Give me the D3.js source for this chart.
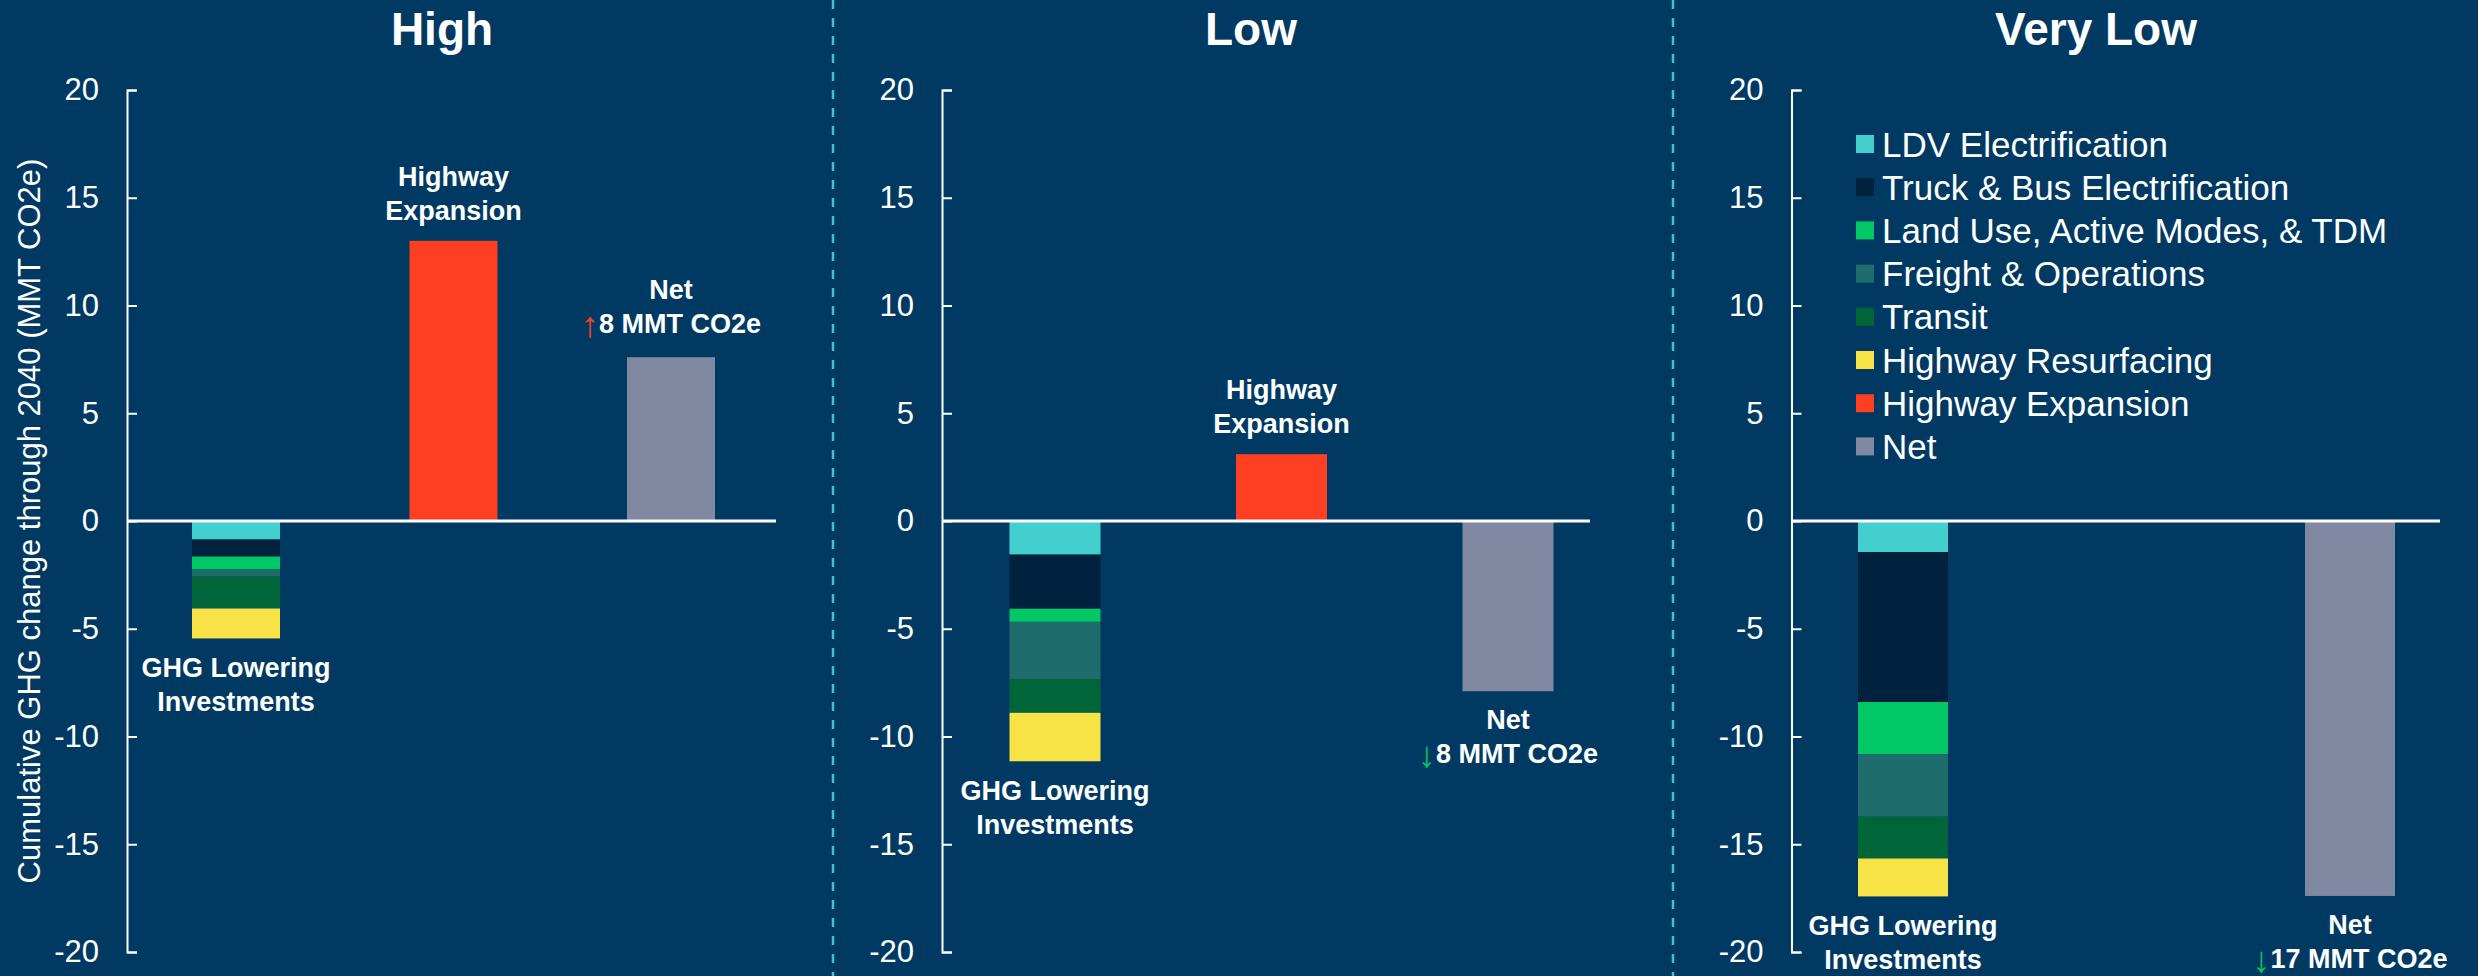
<!DOCTYPE html>
<html>
<head>
<meta charset="utf-8">
<script src="https://cdn.jsdelivr.net/npm/d3@7"></script>
<style>
  html, body { margin: 0; padding: 0; background: #003a63; }
  svg { display: block; }
  text { font-family: "Liberation Sans", Arial, sans-serif; fill: #ffffff; }
</style>
</head>
<body>
<svg id="chart" width="2478" height="976"></svg>
<script>
// ---------------- DATA ----------------
const scenarios = ["High", "Low", "Very Low"];
const categories = ["GHG Lowering Investments", "Highway Expansion", "Net"];
const seriesNames = [
  "LDV Electrification",
  "Truck & Bus Electrification",
  "Land Use, Active Modes, & TDM",
  "Freight & Operations",
  "Transit",
  "Highway Resurfacing",
  "Highway Expansion",
  "Net"
];
const ldvElectrification   = [-0.86, -1.56, -1.44];
const truckBusElectrif     = [-0.79, -2.51, -6.96];
const landUseActiveTdm     = [-0.60, -0.61, -2.43];
const freightOperations    = [-0.33, -2.65, -2.89];
const transit              = [-1.48, -1.57, -1.94];
const highwayResurfacing   = [-1.39, -2.25, -1.76];
const highwayExpansion     = [13.0, 3.1, 0];
const netChange            = [7.6, -7.9, -17.4];
const netArrows            = ["↑", "↓", "↓"];
const netLabelText         = ["8 MMT CO2e", "8 MMT CO2e", "17 MMT CO2e"];
const yTicks               = [20, 15, 10, 5, 0, -5, -10, -15, -20];
const yAxisTitle           = "Cumulative GHG change through 2040 (MMT CO2e)";

// ---------------- STYLE / LAYOUT ----------------
const colors = ["#44cfcf", "#00223e", "#00c866", "#1f6c6c", "#00663a", "#f7e346", "#ff3f21", "#8089a1"];
const bg = "#003a63";
const panelLayout = [
  { axisX: 127,   firstCenter: 236,  spacing: 217.5, lineEnd: 776,  barW: 88, titleX: 442 },
  { axisX: 942,   firstCenter: 1055, spacing: 226.5, lineEnd: 1590, barW: 91, titleX: 1251 },
  { axisX: 1791.5,firstCenter: 1903, spacing: 223.5, lineEnd: 2440, barW: 90, titleX: 2096 }
];
const separators = [833, 1673];

const svg = d3.select("#chart");
svg.append("rect").attr("width", 2478).attr("height", 976).attr("fill", bg);

const y = d3.scaleLinear().domain([-20, 20]).range([952, 90]);
const color = d3.scaleOrdinal().domain(seriesNames).range(colors);

svg.selectAll("line.sep").data(separators).join("line")
  .attr("class", "sep")
  .attr("x1", d => d).attr("x2", d => d)
  .attr("y1", 0).attr("y2", 976)
  .attr("stroke", "#3fc3c9").attr("stroke-width", 2.5)
  .attr("stroke-dasharray", "9,9");

svg.append("text")
  .attr("transform", "translate(29,521) rotate(-90)")
  .attr("text-anchor", "middle")
  .attr("dominant-baseline", "central")
  .style("font-size", "31px")
  .text(yAxisTitle);

scenarios.forEach((scen, i) => {
  const L = panelLayout[i];
  const g = svg.append("g");

  const rows = categories.map((cat, ci) => {
    const r = { category: cat };
    seriesNames.forEach(s => r[s] = 0);
    if (ci === 0) {
      r[seriesNames[0]] = ldvElectrification[i];
      r[seriesNames[1]] = truckBusElectrif[i];
      r[seriesNames[2]] = landUseActiveTdm[i];
      r[seriesNames[3]] = freightOperations[i];
      r[seriesNames[4]] = transit[i];
      r[seriesNames[5]] = highwayResurfacing[i];
    } else if (ci === 1) {
      r[seriesNames[6]] = highwayExpansion[i];
    } else {
      r[seriesNames[7]] = netChange[i];
    }
    return r;
  });
  const stacked = d3.stack().keys(seriesNames).offset(d3.stackOffsetDiverging)(rows);

  const x = d3.scalePoint().domain(categories)
    .range([L.firstCenter, L.firstCenter + 2 * L.spacing]);

  g.append("text")
    .attr("x", L.titleX).attr("y", 45)
    .attr("text-anchor", "middle")
    .style("font-size", "46px").style("font-weight", "bold")
    .text(scen);

  stacked.forEach(layer => {
    g.selectAll(null).data(layer.filter(d => d[1] - d[0] !== 0)).join("rect")
      .attr("x", d => x(d.data.category) - L.barW / 2)
      .attr("width", L.barW)
      .attr("y", d => y(Math.max(d[0], d[1])))
      .attr("height", d => Math.abs(y(d[0]) - y(d[1])))
      .attr("fill", color(layer.key));
  });

  const axis = d3.axisLeft(y).tickValues(yTicks).tickFormat(d => String(d))
    .tickSizeInner(-10).tickSizeOuter(-10).tickPadding(28);
  const ag = g.append("g").attr("transform", `translate(${L.axisX},0)`).call(axis);
  ag.select(".domain").attr("stroke", "#ffffff").attr("stroke-width", 2);
  ag.selectAll(".tick line").attr("stroke", "#ffffff").attr("stroke-width", 2);
  ag.selectAll(".tick text").attr("fill", "#ffffff")
    .style("font-size", "31px").style("font-family", "'Liberation Sans', Arial, sans-serif");

  g.append("line")
    .attr("x1", L.axisX).attr("x2", L.lineEnd)
    .attr("y1", y(0)).attr("y2", y(0))
    .attr("stroke", "#ffffff").attr("stroke-width", 3);

  const lh = 34;
  const labelFont = "27px";
  const ghgBottom = d3.min(stacked, l => l[0][0]);
  const gl = g.append("text").attr("text-anchor", "middle")
    .style("font-size", labelFont).style("font-weight", "bold");
  gl.append("tspan").attr("x", x(categories[0])).attr("y", y(ghgBottom) + 39).text("GHG Lowering");
  gl.append("tspan").attr("x", x(categories[0])).attr("y", y(ghgBottom) + 39 + lh).text("Investments");

  if (highwayExpansion[i] !== 0) {
    const top = y(highwayExpansion[i]);
    const hl = g.append("text").attr("text-anchor", "middle")
      .style("font-size", labelFont).style("font-weight", "bold");
    hl.append("tspan").attr("x", x(categories[1])).attr("y", top - 21 - lh).text("Highway");
    hl.append("tspan").attr("x", x(categories[1])).attr("y", top - 21).text("Expansion");
  }

  const nv = netChange[i];
  const up = nv > 0;
  const base1 = up ? y(nv) - 24 - lh : y(nv) + 38;
  const nl = g.append("text").attr("text-anchor", "middle")
    .style("font-size", labelFont).style("font-weight", "bold");
  nl.append("tspan").attr("x", x(categories[2])).attr("y", base1).text("Net");
  const l2 = nl.append("tspan").attr("x", x(categories[2])).attr("y", base1 + lh);
  l2.append("tspan").style("font-weight", "normal").style("font-size", "36px")
    .attr("dy", 4)
    .style("fill", up ? colors[6] : colors[2]).text(netArrows[i]);
  l2.append("tspan").attr("dy", -4).text(netLabelText[i]);
});

const legend = svg.append("g").attr("transform", "translate(1856,144)");
const items = legend.selectAll("g").data(seriesNames).join("g")
  .attr("transform", (d, k) => `translate(0,${k * 43.2})`);
items.append("rect").attr("x", 0).attr("y", -9).attr("width", 18).attr("height", 18)
  .attr("fill", d => color(d));
items.append("text").attr("x", 26).attr("y", 0)
  .attr("dominant-baseline", "central")
  .style("font-size", "35px")
  .text(d => d);
</script>
</body>
</html>
